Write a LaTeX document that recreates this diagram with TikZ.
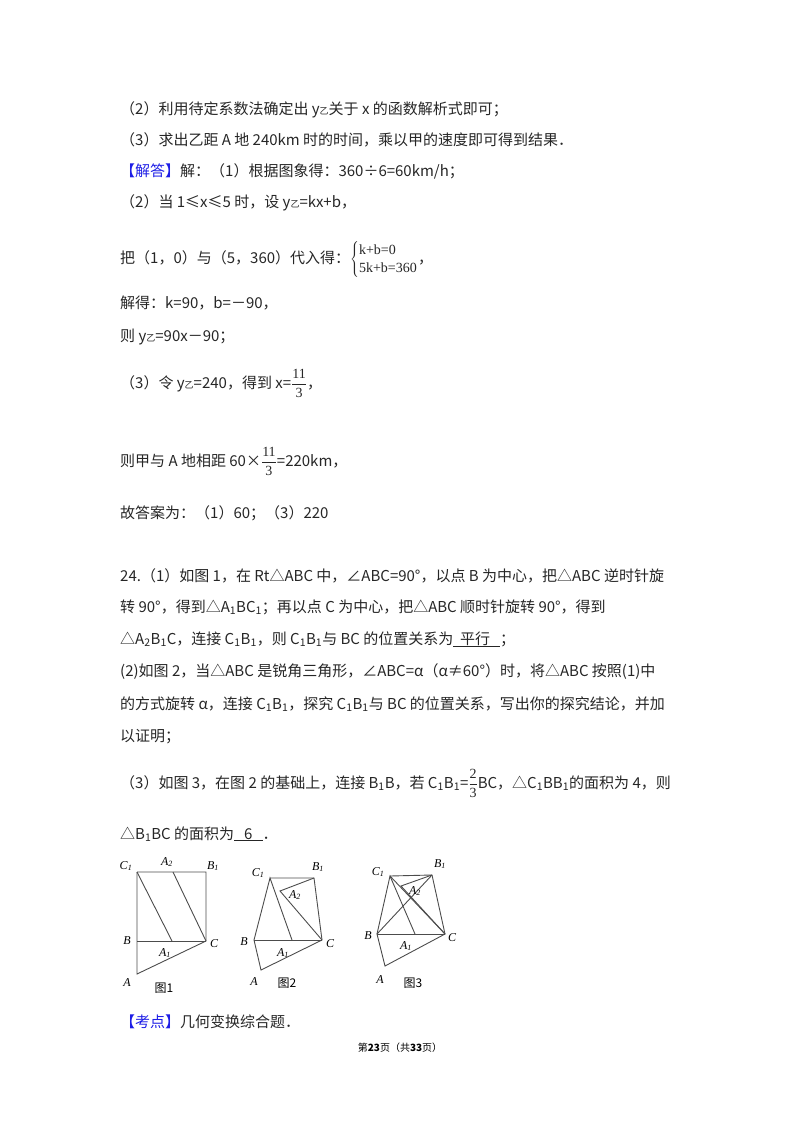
\documentclass[tikz,border=0pt]{standalone}
\usepackage{fontspec}
\setmainfont{Noto Sans CJK SC}
\newfontfamily\ser{Liberation Serif}
\definecolor{kblue}{RGB}{30,30,230}
\newcommand{\myfr}[2]{$\displaystyle\frac{\mbox{\ser\fontsize{14}{14}\selectfont #1}}{\mbox{\ser\fontsize{14}{14}\selectfont #2}}$}
\newcommand{\ysub}{y{\fontsize{9}{9}\selectfont 乙}}
\begin{document}
\begin{tikzpicture}[x=1pt,y=-1pt,
  ln/.style={anchor=base west,inner sep=0pt,font=\fontsize{15}{18}\selectfont,text=black!85},
  g/.style={draw=black!70,line width=0.9pt},
  lb/.style={font=\ser\itshape\fontsize{12}{12}\selectfont,inner sep=0pt},
  figcap/.style={font=\fontsize{12}{13}\selectfont,inner sep=0pt}]
\useasboundingbox (0,0) rectangle (800,1132);
\node[ln] (l1) at (120,114) {（2）利用待定系数法确定出 \ysub 关于 x 的函数解析式即可；};
\node[ln] (l2) at (120,145) {（3）求出乙距 A 地 240km 时的时间，乘以甲的速度即可得到结果．};
\node[ln] (l3) at (120,176) {\textcolor{kblue}{【解答】}解：（1）根据图象得：360÷6=60km/h；};
\node[ln] (l4) at (120,207) {（2）当 1≤x≤5 时，设 \ysub=kx+b，};
\node[ln] (l5) at (120,263) {把（1，0）与（5，360）代入得：$\left\{\begin{array}{@{}l@{}}\mbox{\ser\fontsize{14}{15}\selectfont k+b=0}\\ \mbox{\ser\fontsize{14}{15}\selectfont 5k+b=360}\end{array}\right.$，};
\node[ln] (l6) at (120,308) {解得：k=90，b=－90，};
\node[ln] (l7) at (120,341) {则 \ysub=90x－90；};
\node[ln] (l8) at (120,388) {（3）令 \ysub=240，得到 x=\myfr{11}{3}，};
\node[ln] (l9) at (120,466) {则甲与 A 地相距 60×\myfr{11}{3}=220km，};
\node[ln] (l10) at (120,518) {故答案为：（1）60；（3）220};
\node[ln] (l11) at (120,581) {24.（1）如图 1，在 Rt△ABC 中，∠ABC=90°，以点 B 为中心，把△ABC 逆时针旋};
\node[ln] (l12) at (120,612) {转 90°，得到△A\textsubscript{1}BC\textsubscript{1}；再以点 C 为中心，把△ABC 顺时针旋转 90°，得到};
\node[ln] (l13) at (120,644) {△A\textsubscript{2}B\textsubscript{1}C，连接 C\textsubscript{1}B\textsubscript{1}，则 C\textsubscript{1}B\textsubscript{1}与 BC 的位置关系为\underline{\ \ 平行\ \ \ }；};
\node[ln] (l14) at (120,676) {(2)如图 2，当△ABC 是锐角三角形，∠ABC=α（α≠60°）时，将△ABC 按照(1)中};
\node[ln] (l15) at (120,709) {的方式旋转 α，连接 C\textsubscript{1}B\textsubscript{1}，探究 C\textsubscript{1}B\textsubscript{1}与 BC 的位置关系，写出你的探究结论，并加};
\node[ln] (l16) at (120,741) {以证明；};
\node[ln] (l17) at (120,788) {（3）如图 3，在图 2 的基础上，连接 B\textsubscript{1}B，若 C\textsubscript{1}B\textsubscript{1}=\myfr{2}{3}BC，△C\textsubscript{1}BB\textsubscript{1}的面积为 4，则};
\node[ln] (l18) at (120,839) {△B\textsubscript{1}BC 的面积为\underline{\ \ \ 6\ \ \ }．};
% fig1
\coordinate (a1C1) at (137,872); \coordinate (a1B1) at (206,872); \coordinate (a1B) at (137,941);
\coordinate (a1C) at (206,941); \coordinate (a1A) at (137,974); \coordinate (a1A2) at (173,872); \coordinate (a1A1) at (172,941);
\draw[g] (a1C1)--(a1B1)--(a1C)--(a1A)--(a1C1); \draw[g] (a1B)--(a1C); \draw[g] (a1C1)--(a1A1); \draw[g] (a1A2)--(a1C);
\node[lb] (t1a) at (126,866) {C\textsubscript{1}}; \node[lb] (t1b) at (167,862) {A\textsubscript{2}}; \node[lb] (t1c) at (213,866) {B\textsubscript{1}};
\node[lb] (t1d) at (127,941) {B}; \node[lb] (t1e) at (214,944) {C}; \node[lb] (t1f) at (165,953) {A\textsubscript{1}};
\node[lb] (t1g) at (127,983) {A}; \node[figcap] (t1h) at (164,988) {图1};
% fig2
\coordinate (b2C1) at (270,878); \coordinate (b2B1) at (314,878); \coordinate (b2B) at (254,940);
\coordinate (b2C) at (322,940); \coordinate (b2A) at (261,970); \coordinate (b2A1) at (292,940); \coordinate (b2A2) at (280,891);
\draw[g] (b2C1)--(b2B1)--(b2C)--(b2A)--(b2B)--(b2C1)--(b2A1); \draw[g] (b2B)--(b2C); \draw[g] (b2B1)--(b2A2)--(b2C);
\node[lb] (t2a) at (258,873) {C\textsubscript{1}}; \node[lb] (t2b) at (318,867) {B\textsubscript{1}}; \node[lb] (t2c) at (295,895) {A\textsubscript{2}};
\node[lb] (t2d) at (244,942) {B}; \node[lb] (t2e) at (330,944) {C}; \node[lb] (t2f) at (283,953) {A\textsubscript{1}};
\node[lb] (t2g) at (254,982) {A}; \node[figcap] (t2h) at (287,983) {图2};
% fig3
\coordinate (c3C1) at (390,876); \coordinate (c3B1) at (432,875); \coordinate (c3B) at (377,934);
\coordinate (c3C) at (445,934); \coordinate (c3A) at (385,966); \coordinate (c3A1) at (415,934); \coordinate (c3A2) at (401,886);
\draw[g] (c3C1)--(c3B1)--(c3C)--(c3A)--(c3B)--(c3C1)--(c3A1); \draw[g] (c3B)--(c3C); \draw[g] (c3B1)--(c3A2)--(c3C);
\draw[g] (c3C1)--(c3C); \draw[g] (c3B)--(c3B1);
\node[lb] (t3a) at (378,872) {C\textsubscript{1}}; \node[lb] (t3b) at (440,864) {B\textsubscript{1}}; \node[lb] (t3c) at (415,891) {A\textsubscript{2}};
\node[lb] (t3d) at (368,936) {B}; \node[lb] (t3e) at (452,938) {C}; \node[lb] (t3f) at (406,946) {A\textsubscript{1}};
\node[lb] (t3g) at (380,980) {A}; \node[figcap] (t3h) at (413,983) {图3};
\node[ln] (l19) at (120,1027) {\textcolor{kblue}{【考点】}几何变换综合题．};
\node[anchor=base,inner sep=0pt,font=\fontsize{10}{12}\selectfont] (ft) at (400,1051) {第\textbf{23}页（共\textbf{33}页）};
\end{tikzpicture}
\end{document}
